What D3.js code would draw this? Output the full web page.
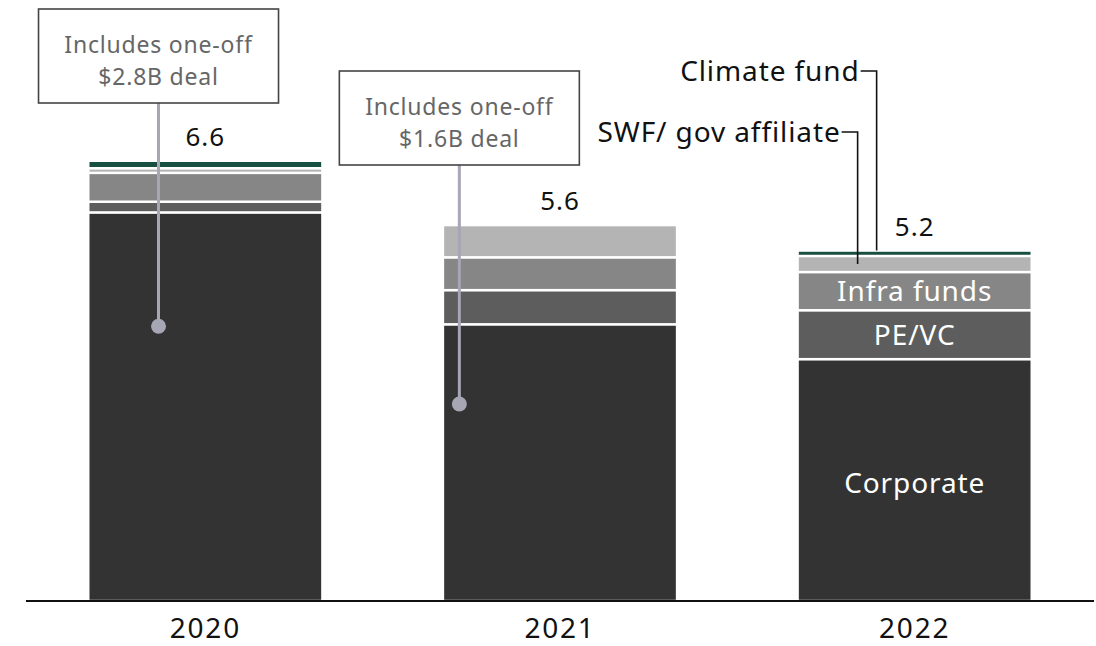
<!DOCTYPE html>
<html>
<head>
<meta charset="utf-8">
<script src="https://cdn.jsdelivr.net/npm/d3@7"></script>
<style>
  body { margin: 0; background: #fff; }
  svg { display: block; font-family: "Noto Sans", "Open Sans", sans-serif; }
</style>
</head>
<body>
<div id="chart"></div>
<script>
const years = ["2020", "2021", "2022"];
const segments = ["Corporate", "PE/VC", "Infra funds", "SWF/ gov affiliate", "Climate fund"];
const corporate = [5.80, 4.13, 3.61];
const peVc = [0.16, 0.51, 0.73];
const infraFunds = [0.43, 0.49, 0.57];
const swfGov = [0.07, 0.48, 0.24];
const climateFund = [0.11, 0, 0.08];
const totals = ["6.6", "5.6", "5.2"];
const segmentColors = ["#333333", "#5d5d5d", "#868686", "#b4b4b4", "#164e3f"];

// callouts: year, value where the dot sits, fraction across the bar, text lines
const callouts = [
    { year: "2020", value: 4.1, at: 0.3, lines: ["Includes one-off", "$2.8B deal"] },
    { year: "2021", value: 2.94, at: 0.07, lines: ["Includes one-off", "$1.6B deal"] }
];

const width = 1096, height = 646;
const baseline = 601;

const svg = d3.select("#chart").append("svg")
    .attr("width", width)
    .attr("height", height);

const x = d3.scaleBand().domain(years).range([28, 1092]).paddingInner(0.34).paddingOuter(0.17);
const y = d3.scaleLinear().domain([0, 6.6]).range([baseline, baseline - 6.6 * 67]);

const table = years.map((yr, i) => ({
    year: yr,
    "Corporate": corporate[i],
    "PE/VC": peVc[i],
    "Infra funds": infraFunds[i],
    "SWF/ gov affiliate": swfGov[i],
    "Climate fund": climateFund[i]
}));

const color = d3.scaleOrdinal().domain(segments).range(segmentColors);
const series = d3.stack().keys(segments)(table);

// stacked bars
series.forEach(s => {
    svg.append("g").selectAll("rect")
        .data(s.filter(d => d[1] - d[0] > 0))
        .enter()
        .append("rect")
        .attr("x", d => x(d.data.year))
        .attr("y", d => y(d[1]))
        .attr("width", x.bandwidth())
        .attr("height", d => y(d[0]) - y(d[1]))
        .attr("fill", color(s.key))
        .attr("stroke", "#fff")
        .attr("stroke-width", 2.4);
});

// segment labels inside last bar
const lastYear = years[years.length - 1];
series.slice(0, 3).forEach((s, i) => {
    const d = s.find(v => v.data.year === lastYear);
    svg.append("text")
        .attr("x", x(lastYear) + x.bandwidth() / 2)
        .attr("y", (y(d[0]) + y(d[1])) / 2 + (i === 0 ? 3 : 0))
        .attr("dy", "0.36em")
        .attr("text-anchor", "middle")
        .attr("fill", "#fff")
        .style("font-size", "28px")
        .style("letter-spacing", "0.9px")
        .text(s.key);
});

// totals
years.forEach((yr, i) => {
    const top = d3.sum(series, s => s[i][1] - s[i][0]);
    svg.append("text")
        .attr("x", x(yr) + x.bandwidth() / 2)
        .attr("y", y(top) - 15)
        .attr("text-anchor", "middle")
        .attr("fill", "#111")
        .style("font-size", "26px")
        .style("letter-spacing", "1px")
        .text(totals[i]);
});

// axis
const axis = svg.append("g")
    .attr("transform", `translate(0, ${baseline})`)
    .call(d3.axisBottom(x).tickSize(0).tickPadding(17));
axis.select(".domain")
    .attr("d", "M26,0H1094")
    .attr("stroke", "#111")
    .attr("stroke-width", 2);
axis.selectAll(".tick text")
    .style("font-size", "28px")
    .style("letter-spacing", "1.8px")
    .style("font-family", "'Noto Sans', sans-serif")
    .attr("fill", "#111");

// bracket labels for the thin top segments of the last bar
const brackets = [
    { key: "Climate fund", labelY: 71, offset: 79, end: "top" },
    { key: "SWF/ gov affiliate", labelY: 132, offset: 60, end: "mid" }
];
brackets.forEach(b => {
    const s = series.find(v => v.key === b.key);
    const d = s.find(v => v.data.year === lastYear);
    const lx = x(lastYear) + b.offset;
    const ly = b.end === "top" ? y(d[1]) : (y(d[0]) + y(d[1])) / 2;
    svg.append("path")
        .attr("d", `M${lx - 16},${b.labelY}H${lx}V${ly}`)
        .attr("fill", "none")
        .attr("stroke", "#111")
        .attr("stroke-width", 1.6);
    svg.append("text")
        .attr("x", lx - 17)
        .attr("y", b.labelY)
        .attr("dy", "0.36em")
        .attr("text-anchor", "end")
        .attr("fill", "#111")
        .style("font-size", "28px")
        .style("letter-spacing", "0.9px")
        .text(b.key);
});

// one-off deal callouts
callouts.forEach((c, i) => {
    const cx = x(c.year) + x.bandwidth() * c.at;
    const cy = y(c.value);
    const boxTop = i === 0 ? 9 : 71;
    const boxH = 94, boxW = 240;
    svg.append("line")
        .attr("x1", cx).attr("x2", cx)
        .attr("y1", boxTop + boxH).attr("y2", cy)
        .attr("stroke", "#a6a6b4")
        .attr("stroke-width", 3);
    svg.append("circle")
        .attr("cx", cx).attr("cy", cy)
        .attr("r", 7.5)
        .attr("fill", "#a6a6b4");
    svg.append("rect")
        .attr("x", cx - boxW / 2).attr("y", boxTop)
        .attr("width", boxW).attr("height", boxH)
        .attr("fill", "#fff")
        .attr("stroke", "#444")
        .attr("stroke-width", 1.6);
    c.lines.forEach((line, j) => {
        svg.append("text")
            .attr("x", cx)
            .attr("y", boxTop + 36 + j * 32)
            .attr("dy", "0.36em")
            .attr("text-anchor", "middle")
            .attr("fill", "#666")
            .style("font-size", "23px")
            .style("letter-spacing", "0.8px")
            .text(line);
    });
});
</script>
</body>
</html>
